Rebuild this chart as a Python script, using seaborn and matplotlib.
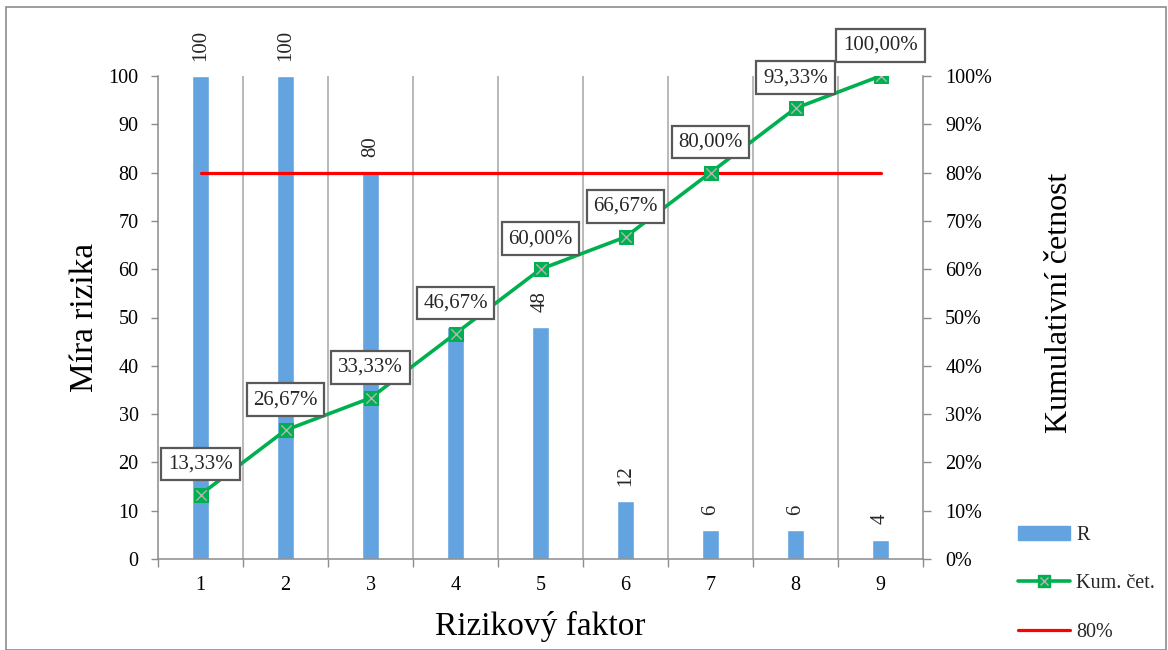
import matplotlib
matplotlib.use("Agg")
import matplotlib.pyplot as plt
import seaborn as sns
import pandas as pd
from matplotlib.lines import Line2D
from matplotlib.patches import Patch, Rectangle
from matplotlib.legend_handler import HandlerTuple
from matplotlib.ticker import FixedLocator

# Pareto data: risk factor, risk measure and cumulative share
factors = ["1", "2", "3", "4", "5", "6", "7", "8", "9"]
risk = [100, 100, 80, 48, 48, 12, 6, 6, 4]
cum_pct = [13.33, 26.67, 33.33, 46.67, 60.00, 66.67, 80.00, 93.33, 100.00]
threshold = [80, 80, 80, 80, 80, 80, 80, 80, 80]
left_ticks = [0, 10, 20, 30, 40, 50, 60, 70, 80, 90, 100]
right_tick_labels = ["0%", "10%", "20%", "30%", "40%", "50%", "60%", "70%", "80%", "90%", "100%"]
# the value label of factor 4 would sit under its cumulative-share box
hidden_bar_labels = ["4"]

sns.set_theme(style="white")
plt.rcParams["font.family"] = ["Liberation Serif", "DejaVu Serif"]

BAR = "#62A3E0"
GREEN = "#00B050"
RED = "#FF0000"
AXIS = "#8C8C8C"
FS = 14.5
LABEL_FS = 24

df = pd.DataFrame({"factor": factors, "risk": risk, "cum": cum_pct, "thr": threshold})
df["pos"] = range(len(df))

fig = plt.figure(figsize=(11.68, 6.5), dpi=100)
ax = fig.add_axes([158 / 1168, 1 - 559 / 650, 765 / 1168, 483 / 650])

sns.barplot(data=df, x="factor", y="risk", color=BAR, width=0.19,
            saturation=1, ax=ax, zorder=2)
ax.set_xlim(-0.5, 8.5)
ax.set_ylim(0, 100)

# category boundary gridlines
bounds = [i - 0.5 for i in range(len(factors) + 1)]
for b in bounds[1:-1]:
    ax.axvline(b, color="#A6A6A6", lw=1.1, zorder=1)

ax.xaxis.set_major_locator(FixedLocator(list(range(len(factors)))))
ax.set_xticklabels(factors)
ax.xaxis.set_minor_locator(FixedLocator(bounds))
ax.tick_params(axis="x", which="major", length=0, pad=12, labelsize=FS, colors="black")
ax.tick_params(axis="x", which="minor", bottom=True, length=6, width=1, color=AXIS)
ax.set_yticks(left_ticks)
ax.tick_params(axis="y", left=True, length=5, width=1, color=AXIS, pad=9,
               labelsize=FS, labelcolor="black")

for side in ["top", "right"]:
    ax.spines[side].set_visible(False)
for side in ["left", "bottom"]:
    ax.spines[side].set_color(AXIS)
    ax.spines[side].set_linewidth(1.1)

ax.set_xlabel("Rizikový faktor", fontsize=LABEL_FS, labelpad=12, color="black")
ax.set_ylabel("Míra rizika", fontsize=LABEL_FS, labelpad=6, color="black")

# bar value labels, rotated
for f, p, v in zip(df["factor"], df["pos"], df["risk"]):
    if f in hidden_bar_labels:
        continue
    ax.annotate(str(v), (p, v), xytext=(0, 11), textcoords="offset points",
                rotation=90, ha="center", va="bottom", fontsize=15,
                annotation_clip=False, zorder=3)

# secondary axis for cumulative share
ax2 = ax.twinx()
ax2.set_ylim(0, 100)
sns.lineplot(data=df, x="pos", y="thr", color=RED, lw=2.3, ax=ax2, zorder=3)
sns.lineplot(data=df, x="pos", y="cum", color=GREEN, lw=2.6, marker="s",
             markersize=10, markeredgecolor=GREEN, markerfacecolor=GREEN, ax=ax2, zorder=4)
sns.scatterplot(data=df, x="pos", y="cum", marker="x", color="#B5B5B5", s=55,
                linewidth=1.0, ax=ax2, zorder=5)
ax2.set_xlim(-0.5, 8.5)
ax2.set_xlabel("")
ax2.set_yticks(left_ticks)
ax2.set_yticklabels(right_tick_labels)
ax2.tick_params(axis="y", right=True, length=6, width=1, color=AXIS, pad=10,
                labelsize=FS, labelcolor="black")
for side in ["top", "left", "bottom"]:
    ax2.spines[side].set_visible(False)
ax2.spines["right"].set_color(AXIS)
ax2.spines["right"].set_linewidth(1.1)
ax2.set_ylabel("Kumulativní četnost", fontsize=23, color="black")
ax2.yaxis.set_label_coords(1.1595, 0.53)

for p, c in zip(df["pos"], df["cum"]):
    ax2.annotate(f"{c:.2f}".replace(".", ",") + "%", (p, c), xytext=(0, 22),
                 textcoords="offset points", ha="center", va="center",
                 fontsize=15, annotation_clip=False, zorder=6,
                 bbox=dict(boxstyle="square,pad=0.32", fc="white", ec="#595959", lw=1.6))

# legend
h_bar = Patch(facecolor=BAR, edgecolor=BAR)
h_cum = (Line2D([], [], color=GREEN, lw=2.6, marker="s", markersize=9,
                markerfacecolor=GREEN, markeredgecolor=GREEN),
         Line2D([], [], color="none", marker="x", markersize=6,
                markeredgecolor="#B5B5B5", markeredgewidth=1.0))
h_thr = Line2D([], [], color=RED, lw=2.3)
fig.legend([h_bar, h_cum, h_thr], ["R", "Kum. čet.", "80%"],
           handler_map={tuple: HandlerTuple(ndivide=1)},
           loc="upper left", bbox_to_anchor=(1018 / 1168, 1 - 526 / 650),
           frameon=False, fontsize=FS, handlelength=2.6, handletextpad=0.3,
           labelspacing=1.45, borderpad=0, borderaxespad=0)

if ax2.get_legend() is not None:
    ax2.get_legend().remove()

# outer chart border
fig.patches.append(Rectangle((6 / 1168, 0), 1160 / 1168, 1 - 7 / 650,
                             transform=fig.transFigure, fill=False,
                             ec="#8C8C8C", lw=1.2))

fig.savefig("out.png", dpi=100)
